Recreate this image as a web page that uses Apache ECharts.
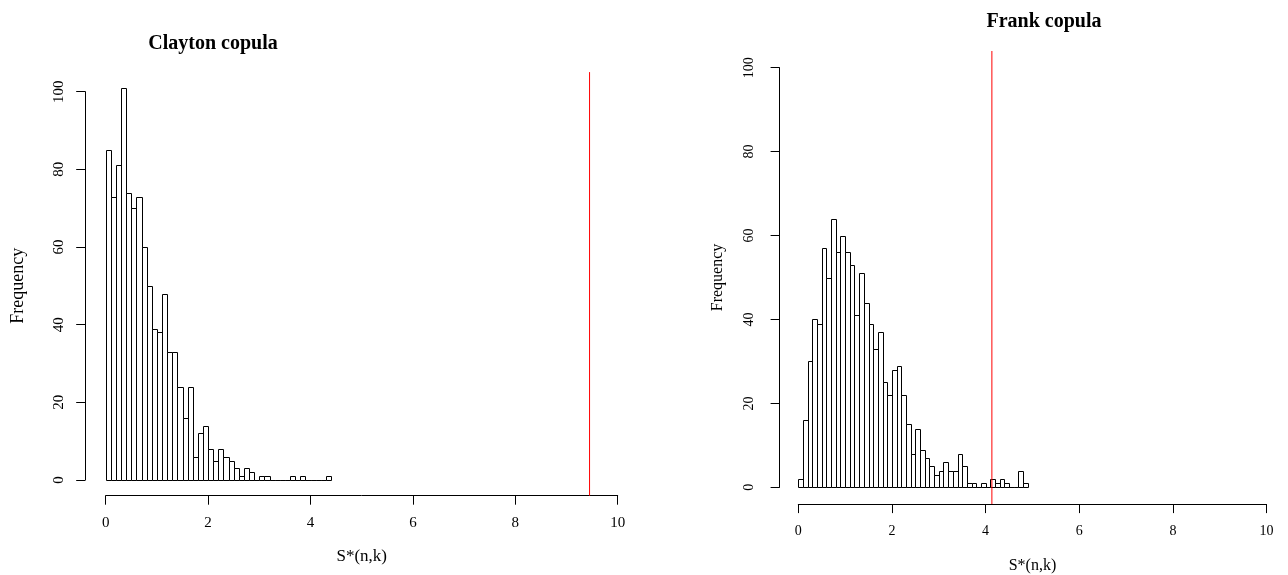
<!DOCTYPE html>
<html>
<head>
<meta charset="utf-8">
<script src="https://cdn.jsdelivr.net/npm/echarts@6/dist/echarts.min.js"></script>
<style>
html,body{margin:0;padding:0;background:#fff;}
#chart{width:1288px;height:575px;}
</style>
</head>
<body>
<div id="chart"></div>
<script>
// ---------- data ----------
const binStarts = [0.0,0.1,0.2,0.3,0.4,0.5,0.6,0.7,0.8,0.9,
                   1.0,1.1,1.2,1.3,1.4,1.5,1.6,1.7,1.8,1.9,
                   2.0,2.1,2.2,2.3,2.4,2.5,2.6,2.7,2.8,2.9,
                   3.0,3.1,3.2,3.3,3.4,3.5,3.6,3.7,3.8,3.9,
                   4.0,4.1,4.2,4.3,4.4,4.5,4.6,4.7,4.8];
const binWidth = 0.1;
const claytonCounts = [85,73,81,101,74,70,73,60,50,39,
                       38,48,33,33,24,16,24,6,12,14,
                       8,5,8,6,5,3,1,3,2,0,
                       1,1,0,0,0,0,1,0,1,0,
                       0,0,0,1];
const frankCounts = [2,16,30,40,39,57,50,64,56,60,
                     56,53,41,51,44,39,33,37,25,22,
                     28,29,22,15,8,14,9,7,5,3,
                     4,6,4,4,8,5,1,1,0,1,
                     0,2,1,2,1,0,0,4,1];
const claytonObserved = 9.45;
const frankObserved = 4.14;
const xTicks = [0,2,4,6,8,10];
const yTicks = [0,20,40,60,80,100];
const titles = ['Clayton copula','Frank copula'];
const xLabel = 'S*(n,k)';
const yLabel = 'Frequency';

// ---------- build ----------
const serif = 'Liberation Serif';
function histData(counts){
  return counts.map((c,i)=>[binStarts[i], binStarts[i]+binWidth, c]);
}
function renderBin(params, api){
  const p0 = api.coord([api.value(0), api.value(2)]);
  const p1 = api.coord([api.value(1), 0]);
  const x = Math.round(p0[0]) + 0.5, x2 = Math.round(p1[0]) + 0.5;
  const y = Math.round(p0[1]) + 0.5, y2 = Math.round(p1[1]) + 0.5;
  return {type:'rect', shape:{x:x, y:y, width:x2-x, height:y2-y},
          style:{fill:'#fff', stroke:'#000', lineWidth:1}};
}
function valueAxisX(idx, offset, fs, margin, nameGap){
  return {type:'value', gridIndex:idx, min:xTicks[0], max:xTicks[xTicks.length-1], interval:2,
    offset:offset, splitLine:{show:false},
    axisLine:{show:true, onZero:false, lineStyle:{color:'#000', width:1}},
    axisTick:{show:true, length:9, lineStyle:{color:'#000'}},
    axisLabel:{color:'#000', fontFamily:serif, fontSize:fs, margin:margin},
    name:xLabel, nameLocation:'middle', nameGap:nameGap,
    nameTextStyle:{color:'#000', fontFamily:serif, fontSize:fs+2}};
}
function valueAxisY(idx, offset, fs, nameGap, margin, nameFs){
  return {type:'value', gridIndex:idx, min:yTicks[0], max:yTicks[yTicks.length-1], interval:20,
    offset:offset, splitLine:{show:false},
    axisLine:{show:true, onZero:false, lineStyle:{color:'#000', width:1}},
    axisTick:{show:true, length:9, lineStyle:{color:'#000'}},
    axisLabel:{color:'#000', fontFamily:serif, fontSize:fs, rotate:90, margin:margin},
    name:yLabel, nameLocation:'middle', nameGap:nameGap, nameRotate:90,
    nameTextStyle:{color:'#000', fontFamily:serif, fontSize:nameFs}};
}
function hiddenX(idx){ return {type:'value', gridIndex:idx, min:-0.4, max:10.4, show:false}; }
function hiddenY(idx){ return {type:'value', gridIndex:idx, min:0, max:1, show:false}; }
function grid(l,t,w,h){ return {left:l, top:t, width:w, height:h, containLabel:false, outerBoundsMode:'none'}; }

const option = {
  animation:false,
  backgroundColor:'#fff',
  title:[
    {text:titles[0], left:208, top:29, textAlign:'center',
     textStyle:{fontFamily:serif, fontWeight:'bold', fontSize:20, color:'#000'}},
    {text:titles[1], left:1039, top:7, textAlign:'center',
     textStyle:{fontFamily:serif, fontWeight:'bold', fontSize:20, color:'#000'}}
  ],
  grid:[
    grid(105.7, 91.7, 512, 388.3),
    grid(85.2, 72.1, 553, 423.6),
    grid(798.3, 67.7, 468.3, 419.6),
    grid(779.3, 51, 505.7, 453.1)
  ],
  xAxis:[ valueAxisX(0, 15.7, 15, 20, 52), hiddenX(1), valueAxisX(2, 16.8, 14, 20, 54), hiddenX(3) ],
  yAxis:[ valueAxisY(0, 20.5, 15, 58, 19, 18), hiddenY(1), valueAxisY(2, 18.7, 14, 54, 23, 16), hiddenY(3) ],
  series:[
    {type:'custom', xAxisIndex:0, yAxisIndex:0, data:histData(claytonCounts),
     renderItem:renderBin, clip:false, encode:{x:[0,1], y:2}, z:2},
    {type:'line', xAxisIndex:1, yAxisIndex:1, data:[[claytonObserved,0],[claytonObserved,1]],
     symbol:'none', lineStyle:{color:'#ff0000', width:1}, z:3},
    {type:'custom', xAxisIndex:2, yAxisIndex:2, data:histData(frankCounts),
     renderItem:renderBin, clip:false, encode:{x:[0,1], y:2}, z:2},
    {type:'line', xAxisIndex:3, yAxisIndex:3, data:[[frankObserved,0],[frankObserved,1]],
     symbol:'none', lineStyle:{color:'#ff0000', width:1}, z:3}
  ]
};
const chart = echarts.init(document.getElementById('chart'), null, {renderer:'canvas'});
chart.setOption(option);
</script>
</body>
</html>
